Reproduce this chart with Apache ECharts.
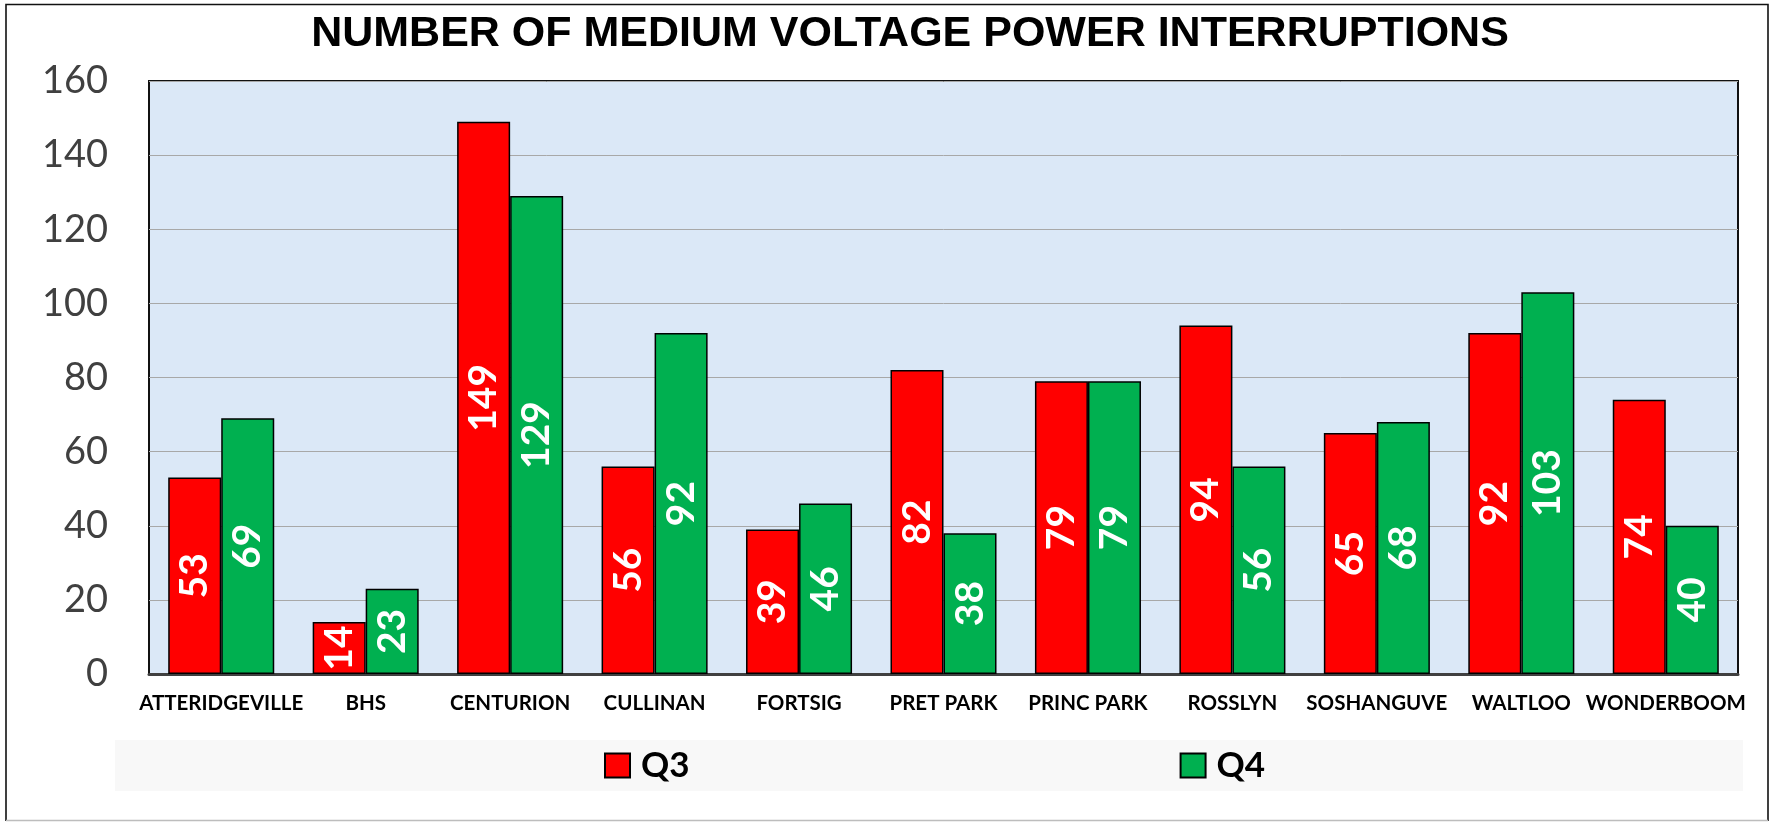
<!DOCTYPE html>
<html>
<head>
<meta charset="utf-8">
<script src="https://cdn.jsdelivr.net/npm/echarts@6/dist/echarts.min.js"></script>
<style>
html,body{margin:0;padding:0;background:#fff;}
#chart{width:1775px;height:822px;}
</style>
</head>
<body>
<div id="chart"></div>
<script>
const titleText = 'NUMBER OF MEDIUM VOLTAGE POWER INTERRUPTIONS';
const categories = ['ATTERIDGEVILLE','BHS','CENTURION','CULLINAN','FORTSIG','PRET PARK','PRINC PARK','ROSSLYN','SOSHANGUVE','WALTLOO','WONDERBOOM'];
const seriesNames = ['Q3','Q4'];
const q3Values = [53,14,149,56,39,82,79,94,65,92,74];
const q4Values = [69,23,129,92,46,38,79,56,68,103,40];
const yTicks = [0,20,40,60,80,100,120,140,160];

const chart = echarts.init(document.getElementById('chart'), null, {renderer:'canvas'});

const labelStyle = {
  show: true,
  position: 'inside',
  rotate: 90,
  color: '#ffffff',
  fontFamily: 'Lato',
  fontWeight: 'bold',
  fontSize: 39
};

chart.setOption({
  animation: false,
  backgroundColor: '#ffffff',
  title: {
    text: titleText,
    left: 910,
    top: 13,
    textAlign: 'center',
    padding: 0,
    textStyle: {fontFamily: 'Liberation Sans', fontWeight: 'bold', fontSize: 43, color: '#000'}
  },
  graphic: [
    {type:'polyline', silent:true, z:-1, shape:{points:[[6,821],[6,4.5],[1768,4.5],[1768,821]]}, style:{stroke:'#111', lineWidth:1.6, fill:null}},
    {type:'line', silent:true, z:-1, shape:{x1:6,y1:820.5,x2:1768,y2:820.5}, style:{stroke:'#bdbdbd', lineWidth:1.5}},
    {type:'rect', silent:true, z:-1, shape:{x:115,y:740,width:1628,height:51}, style:{fill:'#f8f8f8'}}
  ],
  legend: {
    data: seriesNames,
    left: 604,
    top: 748,
    padding: 0,
    icon: 'rect',
    itemWidth: 25,
    itemHeight: 24,
    itemGap: 490,
    textStyle: {fontFamily:'Lato', fontWeight:'bold', fontSize:35, color:'#000', padding:[0,0,0,6]}
  },
  grid: {
    left: 149, top: 81, right: 37, bottom: 148,
    show: true,
    backgroundColor: '#dbe8f7',
    borderColor: '#111',
    borderWidth: 2
  },
  xAxis: {
    type: 'category',
    data: categories,
    axisLine: {show:true, lineStyle:{color:'#404040', width:3}},
    axisTick: {show:false},
    axisLabel: {interval:0, margin:19, fontFamily:'Lato', fontWeight:'bold', fontSize:20.5, color:'#000'}
  },
  yAxis: {
    type: 'value',
    min: yTicks[0],
    max: yTicks[yTicks.length-1],
    interval: yTicks[1]-yTicks[0],
    axisLine: {show:false},
    axisTick: {show:false},
    axisLabel: {margin:41, fontFamily:'Lato', fontSize:38, color:'#404040'},
    splitLine: {show:true, lineStyle:{color:'#a8a8a8', width:1}}
  },
  series: [
    {
      name: seriesNames[0], type: 'bar', data: q3Values,
      barGap: '0%', barCategoryGap: '26.6%',
      itemStyle: {color:'#ff0000', borderColor:'#000', borderWidth:1.5},
      label: labelStyle
    },
    {
      name: seriesNames[1], type: 'bar', data: q4Values,
      barGap: '0%', barCategoryGap: '26.6%',
      itemStyle: {color:'#00b050', borderColor:'#000', borderWidth:1.5},
      label: labelStyle
    }
  ]
});
</script>
</body>
</html>
